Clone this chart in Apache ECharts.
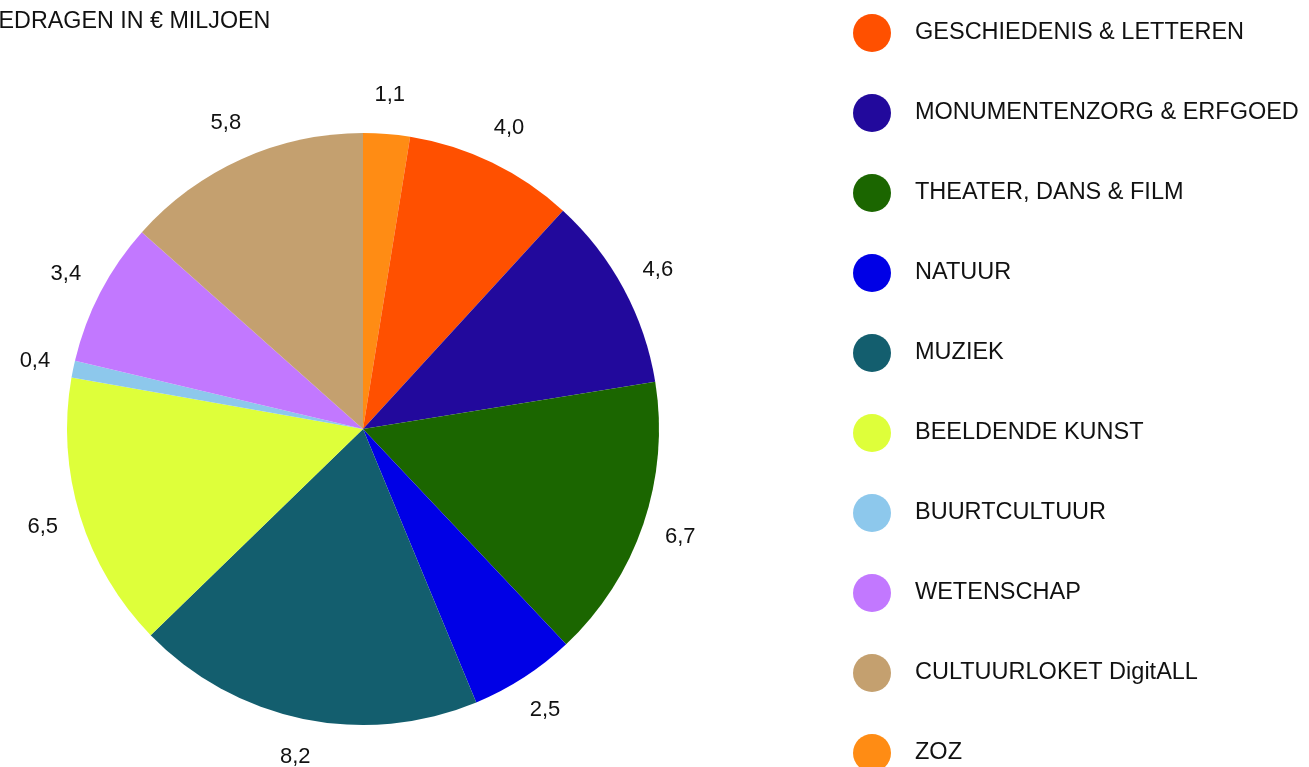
<!DOCTYPE html>
<html>
<head>
<meta charset="utf-8">
<script src="https://cdn.jsdelivr.net/npm/echarts@6/dist/echarts.min.js"></script>
<style>
  html, body { margin: 0; padding: 0; background: #fff; }
  #chart { width: 1309px; height: 767px; }
</style>
</head>
<body>
<div id="chart"></div>
<script>
// slices in drawing order, clockwise from 12 o'clock
const names = ["ZOZ", "GESCHIEDENIS & LETTEREN", "MONUMENTENZORG & ERFGOED", "THEATER, DANS & FILM",
  "NATUUR", "MUZIEK", "BEELDENDE KUNST", "BUURTCULTUUR", "WETENSCHAP", "CULTUURLOKET DigitALL"];
const values = [1.1, 4.0, 4.6, 6.7, 2.5, 8.2, 6.5, 0.4, 3.4, 5.8];
const colors = ["#ff8c14", "#ff5000", "#22099c", "#1b6600", "#0000e6", "#135e6e", "#deff3a", "#8dc8ec", "#c278ff", "#c4a06f"];
// legend order
const legendOrder = ["GESCHIEDENIS & LETTEREN", "MONUMENTENZORG & ERFGOED", "THEATER, DANS & FILM", "NATUUR",
  "MUZIEK", "BEELDENDE KUNST", "BUURTCULTUUR", "WETENSCHAP", "CULTUURLOKET DigitALL", "ZOZ"];

const font = "'Liberation Sans', Arial, sans-serif";
const fmt = p => p.value.toFixed(1).replace(".", ",");
const chart = echarts.init(document.getElementById("chart"));
chart.setOption({
  animation: false,
  title: {
    text: "BEDRAGEN IN € MILJOEN",
    left: -17, top: 10, padding: 0,
    textStyle: { fontFamily: font, fontSize: 23.3, fontWeight: "normal", color: "#111" }
  },
  legend: {
    data: legendOrder,
    orient: "vertical",
    left: 853, top: 14, height: 1000,
    padding: 0,
    icon: "circle",
    itemWidth: 38, itemHeight: 38,
    itemGap: 42,
    textStyle: { fontFamily: font, fontSize: 23.5, color: "#111", padding: [2, 0, 0, 19] }
  },
  series: [{
    type: "pie",
    center: [363, 429],
    radius: 296,
    startAngle: 90,
    label: { show: false },
    labelLine: { show: false },
    emphasis: { disabled: true },
    data: names.map((n, i) => ({ name: n, value: values[i], itemStyle: { color: colors[i] } }))
  }, {
    // invisible ring that only carries the value labels
    type: "pie",
    silent: true,
    center: [363, 429],
    radius: [326, 338],
    startAngle: 90,
    itemStyle: { color: "rgba(0,0,0,0)" },
    label: {
      show: true, position: "inside",
      fontFamily: font, fontSize: 22, color: "#111",
      formatter: fmt
    },
    labelLine: { show: false },
    emphasis: { disabled: true },
    data: names.map((n, i) => ({ name: n, value: values[i] }))
  }]
});
</script>
</body>
</html>
